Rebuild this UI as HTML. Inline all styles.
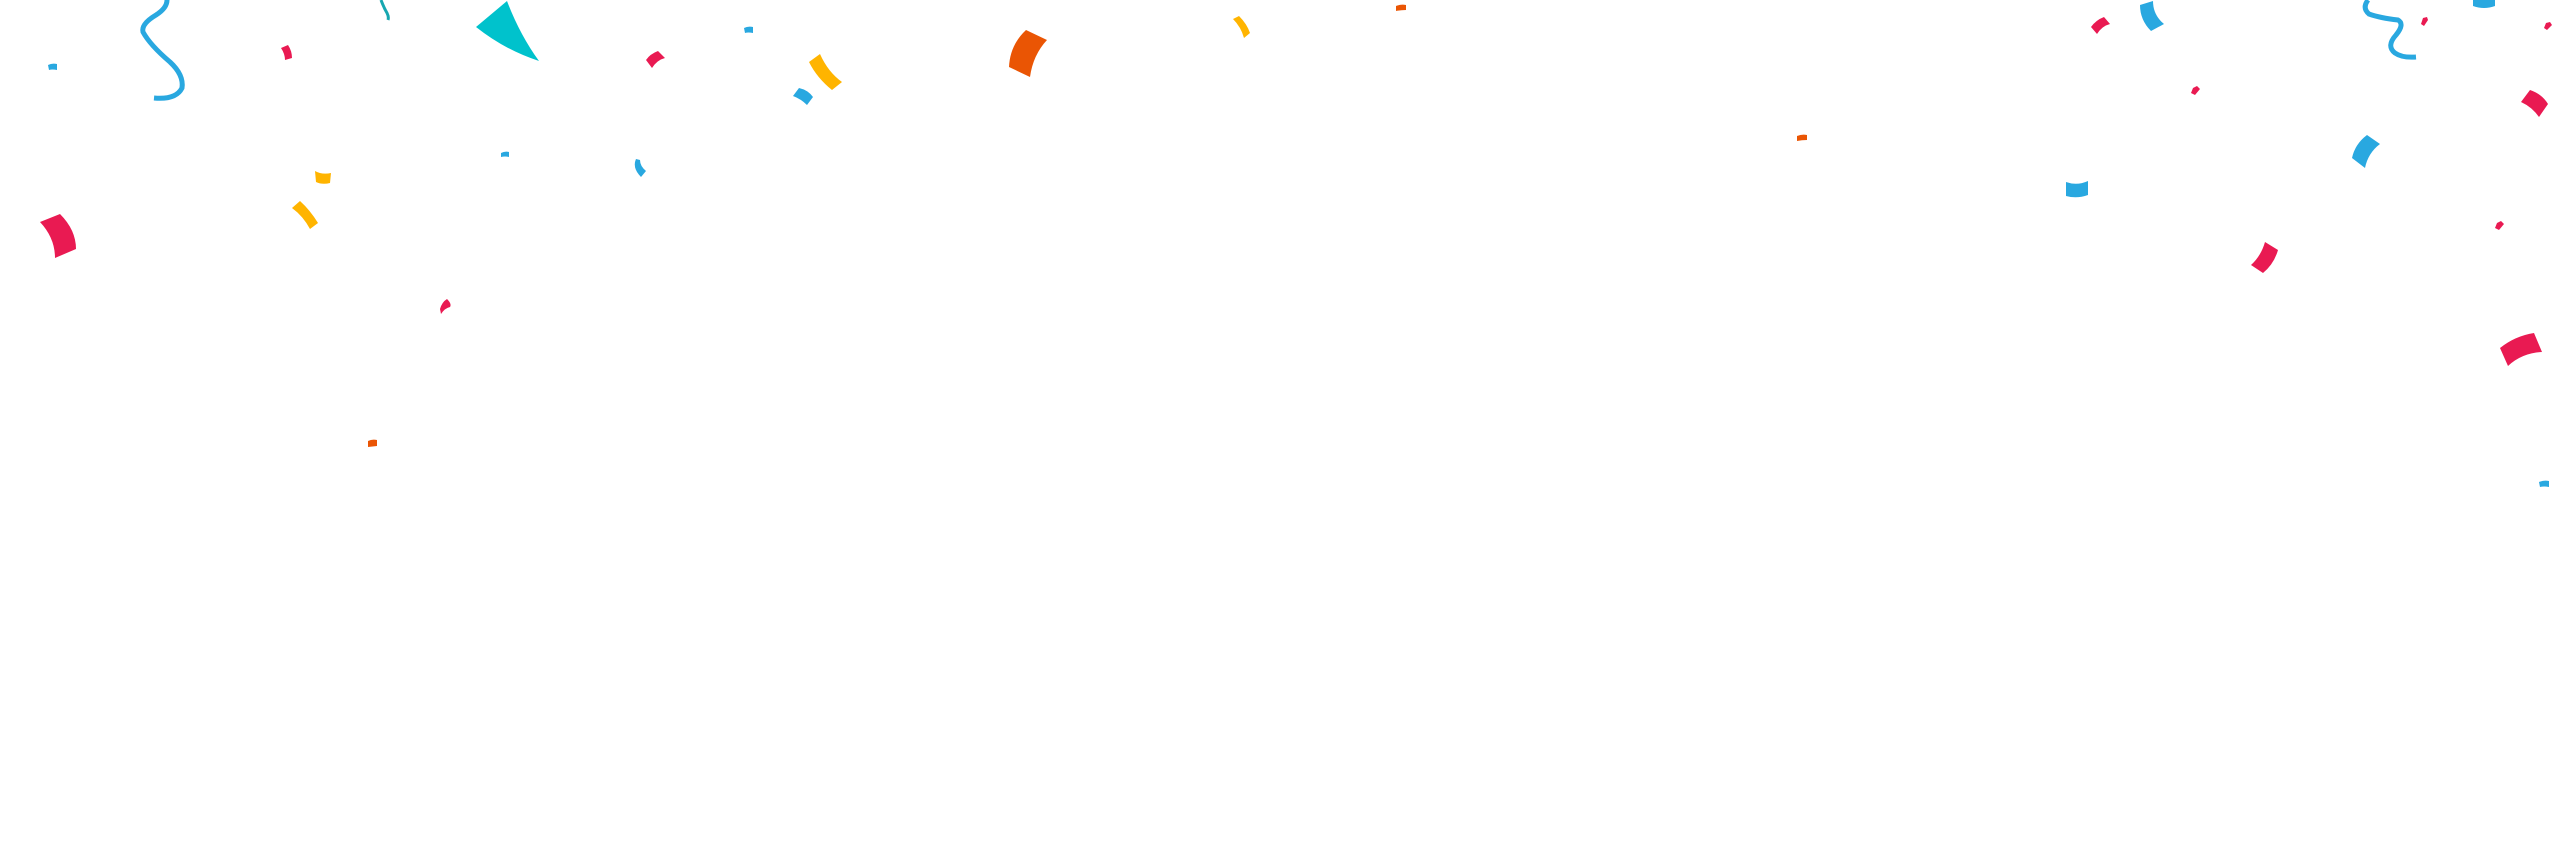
<!DOCTYPE html>
<html><head><meta charset="utf-8"><style>
html,body{margin:0;padding:0;background:#fff;width:2560px;height:868px;overflow:hidden}
svg{display:block}
</style></head><body>
<svg width="2560" height="868" viewBox="0 0 2560 868" xmlns="http://www.w3.org/2000/svg">
<g fill="#E91A52">
<path d="M40,222 L60,214 Q76,230 76,249 L55,258 Q55,238 40,222Z"/>
<path d="M281,48 L288,45 Q292,51 292,58 L285,60 Q285,54 281,48Z"/>
<path d="M646,60 Q650,54 658,51 L665,58 Q657,60 652,68Z"/>
<path d="M440,309 Q442,302 447,299 Q452,304 450,307 Q445,308 441,314Z"/>
<path d="M2091,27 Q2096,20 2104,17 L2110,24 Q2102,26 2097,34Z"/>
<path d="M2193,88 L2197,86 L2200,89 L2195,95 L2191,93Z"/>
<path d="M2423,18 L2427,17 L2428,20 L2424,26 L2421,24Z"/>
<path d="M2546,23 L2550,22 L2552,25 L2547,30 L2544,28Z"/>
<path d="M2497,223 L2501,221 L2504,224 L2499,230 L2495,228Z"/>
<path d="M2521,102 L2530,90 Q2542,94 2548,104 L2539,117 Q2532,107 2521,102Z"/>
<path d="M2251,265 Q2261,256 2265,242 L2278,250 Q2274,264 2263,273Z"/>
<path d="M2500,348 Q2515,336 2534,333 L2542,352 Q2522,353 2508,366Z"/>
</g>
<g fill="#29A8E0">
<path d="M48,65 Q52,63 57,64 L57,70 Q52,69 49,70Z"/>
<path d="M744,28 Q748,26 753,27 L753,33 Q748,32 745,33Z"/>
<path d="M501,153 Q505,151 509,152 L509,157 Q505,156 501,157Z"/>
<path d="M793,96 L799,88 Q808,90 813,97 L807,105 Q801,99 793,96Z"/>
<path d="M636,159 Q632,168 641,177 L646,171 Q640,166 640,160Z"/>
<path d="M2140,5 L2153,1 Q2153,15 2164,24 L2151,31 Q2140,20 2140,5Z"/>
<path d="M2352,158 Q2355,144 2367,135 L2380,144 Q2368,153 2365,168Z"/>
<path d="M2066,182 Q2077,186 2088,181 L2088,195 Q2077,199 2066,196Z"/>
<path d="M2473,0 L2495,0 L2495,6 Q2484,10 2473,6Z"/>
<path d="M2539,482 Q2544,480 2549,481 L2549,487 Q2544,486 2540,487Z"/>
</g>
<g fill="none" stroke="#29A8E0" stroke-width="5" stroke-linecap="butt">
<path d="M167,0 Q167,8 156,15 Q141,24 143,32 Q150,45 170,62 Q184,75 182,88 Q176,100 154,98"/>
<path d="M2368,0 Q2362,8 2369,14 Q2380,18 2398,20 Q2405,24 2396,35 Q2386,46 2395,53 Q2402,58 2416,57"/>
</g>
<path d="M381,0 Q384,8 387,13 Q389,17 388,20" fill="none" stroke="#17A7B0" stroke-width="3"/>
<path d="M507,1 Q520,35 539,61 Q505,50 476,27Z" fill="#00C2CC"/>
<g fill="#FFB400">
<path d="M315,171 Q322,175 331,173 L330,183 Q322,185 316,182Z"/>
<path d="M292,208 L300,201 Q310,210 318,223 L310,229 Q303,216 292,208Z"/>
<path d="M809,62 L820,54 Q828,72 842,82 L832,90 Q817,78 809,62Z"/>
<path d="M1233,19 L1239,16 Q1247,24 1250,33 L1244,38 Q1241,27 1233,19Z"/>
</g>
<g fill="#EA5504">
<path d="M1026,30 L1047,40 Q1033,55 1030,77 L1009,67 Q1010,45 1026,30Z"/>
<path d="M1396,6 Q1401,4 1406,5 L1406,10 Q1401,10 1396,11Z"/>
<path d="M1797,136 Q1802,134 1807,135 L1807,140 Q1802,140 1797,141Z"/>
<path d="M368,441 Q372,439 377,440 L377,446 L368,447Z"/>
</g>
</svg>
</body></html>
